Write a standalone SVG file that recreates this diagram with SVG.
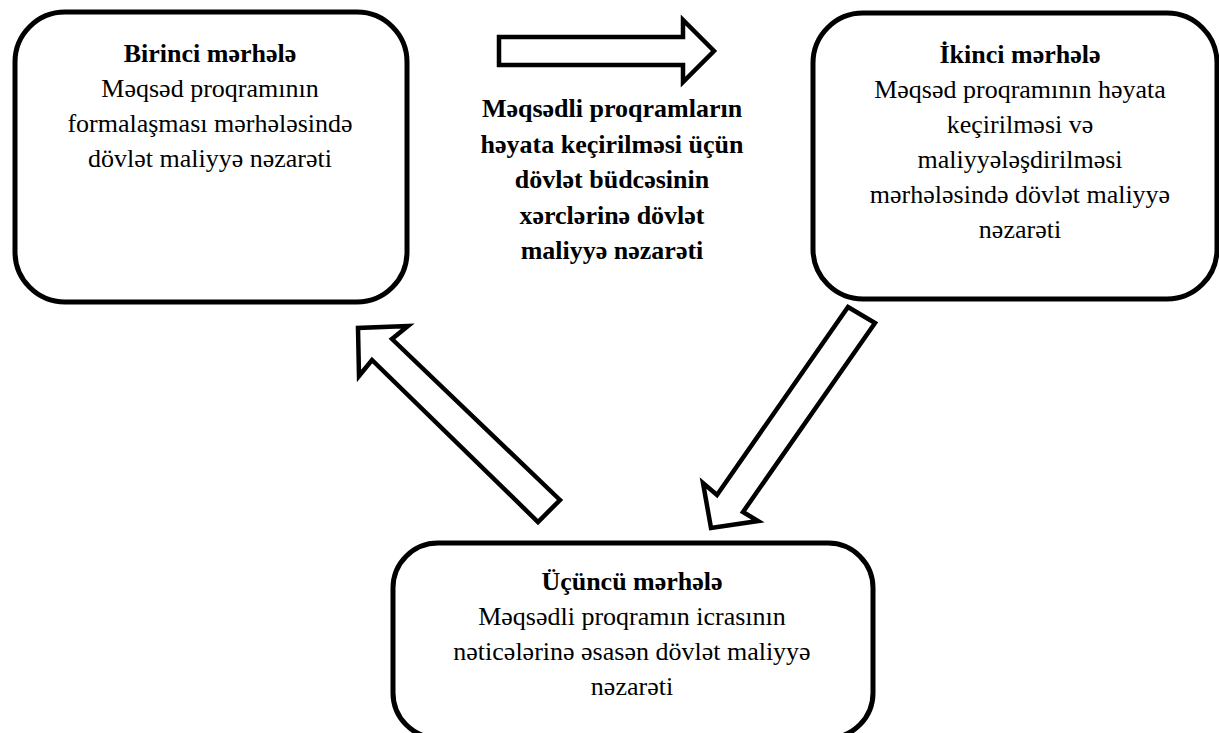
<svg xmlns="http://www.w3.org/2000/svg" width="1219" height="733" viewBox="0 0 1219 733">
<style>
.box{fill:#fff;stroke:#000;stroke-width:5}
.arr{fill:#fff;stroke:#000;stroke-width:4.5;stroke-linejoin:miter}
text{font-family:"Liberation Serif","DejaVu Serif Condensed","DejaVu Serif","Times New Roman",serif;font-size:26px;fill:#000;text-anchor:middle}
.b{font-weight:bold}
</style>
<rect width="1219" height="733" fill="#fff"/>
<g id="connectors">
<polygon class="arr" points="499,37 683,37 683,20 714,51 683,82 683,65 499,65"/>
<polygon class="arr" points="560,500 392,339 408,326 358,328 359,376 372,360 538,522"/>
<polygon class="arr" points="848,307 875,323 743,512 758,521 711,528 703,483 717,495"/>
</g>
<g id="node-1">
<rect class="box" x="15" y="12" width="392" height="290" rx="50" ry="50"/>
<text x="210" y="62" class="b">Birinci mərhələ</text>
<text x="210" y="97">Məqsəd proqramının</text>
<text x="210" y="132">formalaşması mərhələsində</text>
<text x="210" y="167">dövlət maliyyə nəzarəti</text>
</g>
<g id="node-label">
<text x="612" y="117" class="b">Məqsədli proqramların</text>
<text x="612" y="152.5" class="b">həyata keçirilməsi üçün</text>
<text x="612" y="188" class="b">dövlət büdcəsinin</text>
<text x="612" y="223.5" class="b">xərclərinə dövlət</text>
<text x="612" y="259" class="b">maliyyə nəzarəti</text>
</g>
<g id="node-2">
<rect class="box" x="813" y="13" width="404" height="286" rx="50" ry="50"/>
<text x="1020" y="63" class="b">İkinci mərhələ</text>
<text x="1020" y="98">Məqsəd proqramının həyata</text>
<text x="1020" y="133">keçirilməsi və</text>
<text x="1020" y="168">maliyyələşdirilməsi</text>
<text x="1020" y="203">mərhələsində dövlət maliyyə</text>
<text x="1020" y="238">nəzarəti</text>
</g>
<g id="node-3">
<rect class="box" x="393" y="543" width="480" height="195" rx="45" ry="45"/>
<text x="632" y="590" class="b">Üçüncü mərhələ</text>
<text x="632" y="625">Məqsədli proqramın icrasının</text>
<text x="632" y="660">nəticələrinə əsasən dövlət maliyyə</text>
<text x="632" y="695">nəzarəti</text>
</g>
</svg>
